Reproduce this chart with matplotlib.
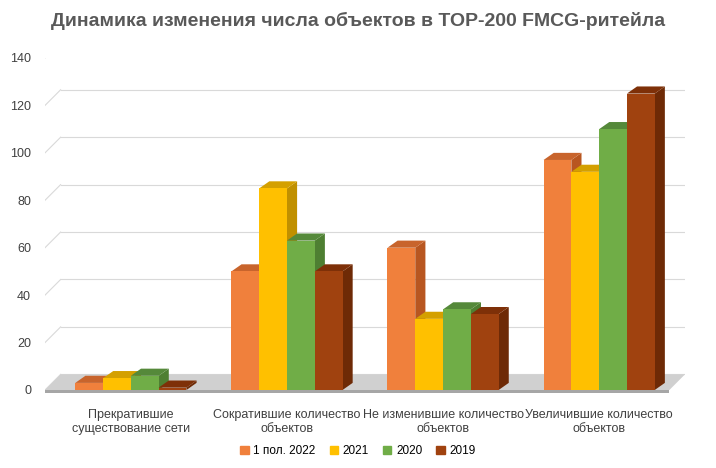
import matplotlib
matplotlib.use("Agg")
import matplotlib.pyplot as plt
from matplotlib.patches import Polygon, Rectangle
import numpy as np

plt.rcParams["font.family"] = "Liberation Sans"

categories = ["Прекратившие\nсуществование сети", "Сократившие количество\nобъектов",
              "Не изменившие количество\nобъектов", "Увеличившие количество\nобъектов"]
series_names = ["1 пол. 2022", "2021", "2020", "2019"]
s2022 = [3, 50, 60, 97]
s2021 = [5, 85, 30, 92]
s2020 = [6, 63, 34, 110]
s2019 = [1, 50, 32, 125]
series = [s2022, s2021, s2020, s2019]
front = ["#F0803C", "#FFC000", "#70AD47", "#A0420F"]
top = ["#C8642C", "#D4A000", "#55893A", "#7E3008"]
side = ["#B85620", "#C09000", "#4E7F32", "#6E2A06"]
yticks = [0, 20, 40, 60, 80, 100, 120, 140]

fig = plt.figure(figsize=(7.16, 4.68), dpi=100)
ax = fig.add_axes([45/716, 78/468, 640/716, 332/468])
ax.set_xlim(-0.55, 3.55)
ax.set_ylim(0, 140)
w = 0.178
dx, dy = 0.065, 3.0

# wall gridlines
for t in yticks:
    ax.plot([-0.55, -0.55 + 0.1], [t, t + dy * 2.2], color="#D9D9D9", lw=0.8, zorder=0)
    ax.plot([-0.45, 3.55], [t + dy * 2.2, t + dy * 2.2], color="#D9D9D9", lw=0.8, zorder=0)
# floor
ax.add_patch(Polygon([[-0.55, 0], [3.45, 0], [3.55, dy * 2.2], [-0.45, dy * 2.2]],
                     closed=True, facecolor="#D0D0D0", edgecolor="none", zorder=0.5))
ax.add_patch(Rectangle((-0.55, -1.2), 4.0, 1.2, facecolor="#A6A6A6", edgecolor="none",
                       zorder=0.5, clip_on=False))

for i, (vals, f, tp, sd) in enumerate(zip(series, front, top, side)):
    for g, v in enumerate(vals):
        x0 = g + (i - 2) * w
        ax.add_patch(Polygon([[x0 + w, 0], [x0 + w + dx, dy], [x0 + w + dx, v + dy], [x0 + w, v]],
                             facecolor=sd, edgecolor="none", zorder=2 + i))
        ax.add_patch(Polygon([[x0, v], [x0 + w, v], [x0 + w + dx, v + dy], [x0 + dx, v + dy]],
                             facecolor=tp, edgecolor="none", zorder=2 + i))
        ax.bar(x0, v, width=w, align="edge", color=f, zorder=2 + i)

for s in ax.spines.values():
    s.set_visible(False)
ax.set_yticks(yticks)
ax.tick_params(axis="y", length=0, labelsize=9, colors="#404040", pad=10)
ax.set_xticks(range(4))
ax.set_xticklabels(categories, fontsize=9, color="#404040")
ax.tick_params(axis="x", length=0, pad=14)

handles = [Rectangle((0, 0), 1, 1, color=c) for c in front]
fig.legend(handles, series_names, loc="lower center", ncol=4, frameon=False,
           fontsize=8.5, handlelength=0.7, handleheight=0.7, bbox_to_anchor=(0.5, 0.0),
           columnspacing=1.2, handletextpad=0.4)
fig.suptitle("Динамика изменения числа объектов в TOP-200 FMCG-ритейла", y=0.975,
             fontsize=14, fontweight="bold", color="#595959")
fig.savefig("out.png", dpi=100)
